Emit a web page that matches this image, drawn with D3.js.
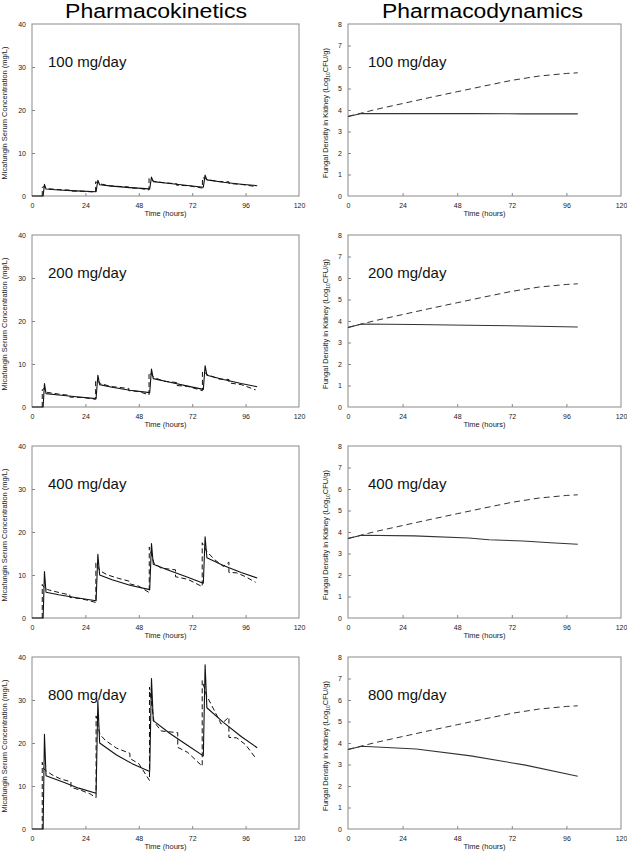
<!DOCTYPE html>
<meta charset="utf-8">
<head>
    <title>Micafungin PK / PD</title>
    <script type="text/javascript" src="https://d3js.org/d3.v7.min.js"></script>
    <style>
        body { margin: 0; background: white; }
        text { font-family: "Liberation Sans", Arial, sans-serif; }
        .tick text { fill: #222; font-size: 7px; }
        .tick line { stroke: #888; }
    </style>
</head>
<body>
<div id="chart"></div>
<script>

    // ---- data ----
    var doseLabels = ["100 mg/day", "200 mg/day", "400 mg/day", "800 mg/day"];
    var timeTicks = [0, 24, 48, 72, 96, 120];
    var pkTicks = [0, 10, 20, 30, 40];
    var pdTicks = [0, 1, 2, 3, 4, 5, 6, 7, 8];

    // serum concentration, model (solid) and second curve (dashed), [hours, mg/L]
    var pk100Solid = [[0,0],[5,0],[5.6,2.7],[6.3,1.62],[12,1.4],[20,1.2],[28.8,1.0],[29.6,3.67],[30.4,2.6],[36,2.3],[44,1.95],[52.9,1.65],[53.7,4.4],[54.5,3.35],[62,2.9],[70,2.45],[77,2.05],[77.8,4.85],[78.6,3.75],[86,3.2],[94,2.75],[101.2,2.4]];
    var pk100Dashed = [[4.6,0],[4.6,2.0],[5.4,2.2],[6.8,1.7],[12,1.5],[17,1.35],[17,1.15],[23,1.1],[28.6,0.9],[28.6,3.3],[30.8,2.8],[35,2.35],[43.5,2.1],[43.5,1.9],[48,1.8],[52.6,1.4],[52.6,4.1],[54.9,3.4],[59,3.1],[65,2.85],[65,2.5],[70,2.4],[76.6,1.85],[76.6,4.3],[79,3.8],[84,3.35],[88.5,3.3],[88.5,2.9],[94,2.7],[100.5,2.2]];

    var pk200Solid = [[0,0],[5,0],[5.6,5.45],[6.3,3.1],[12,2.8],[20,2.4],[28.8,1.95],[29.6,7.4],[30.4,5.2],[36,4.6],[44,3.9],[52.9,3.35],[53.7,8.8],[54.5,6.6],[62,5.75],[70,4.85],[77,4.1],[77.8,9.6],[78.6,7.4],[86,6.4],[94,5.45],[101.2,4.7]];
    var pk200Dashed = [[4.6,0],[4.6,4.0],[5.4,4.3],[6.8,3.4],[12,3.0],[17,2.7],[17,2.3],[23,2.2],[28.6,1.8],[28.6,6.3],[30.8,5.5],[35,4.8],[43.5,4.3],[43.5,3.8],[48,3.6],[52.6,2.8],[52.6,8.0],[54.9,6.9],[59,6.0],[65,5.7],[65,5.0],[70,4.8],[76.6,3.8],[76.6,8.4],[79,7.5],[84,6.5],[88.5,6.4],[88.5,5.6],[94,5.2],[100.5,4.0]];

    var pk400Solid = [[0,0],[5,0],[5.6,10.8],[6.3,6.0],[12,5.4],[20,4.7],[28.8,4.0],[29.6,14.8],[30.4,10.0],[36,8.9],[44,7.6],[52.9,6.6],[53.7,17.3],[54.5,12.5],[62,11.0],[70,9.5],[77,8.1],[77.8,18.9],[78.6,14.0],[86,12.2],[94,10.6],[101.2,9.3]];
    var pk400Dashed = [[4.6,0],[4.6,7.8],[5.5,7.0],[7,6.6],[10,6.2],[14,5.7],[17,5.4],[17,4.8],[22,4.5],[26,4.0],[28.7,3.6],[28.7,12.8],[30.5,11.0],[34,10.0],[39,9.2],[43.5,8.6],[43.5,8.0],[48,7.4],[52.7,5.9],[52.7,16.5],[54.8,12.8],[58,11.6],[64.5,11.2],[64.5,9.6],[70,9.0],[76.5,7.3],[76.5,17.5],[78.5,15.5],[82,13.6],[86,12.0],[88.5,13.0],[88.5,10.6],[92,10.5],[96,9.6],[100.5,8.3]];

    var pk800Solid = [[0,0],[5,0],[5.6,22],[6.3,12.4],[14.5,10.8],[21,9.5],[28.8,8.3],[29.6,29.9],[30.4,20.0],[38,17.2],[45,15.2],[52.9,13.4],[53.7,35],[54.5,25.2],[62,22.2],[70,19.4],[77,17.0],[77.8,38.2],[78.6,28.2],[86,24.8],[94,21.5],[101.2,18.9]];
    var pk800Dashed = [[4.6,0],[4.6,15.5],[5.3,14],[6.5,13.5],[9,12.6],[13,11.6],[17.5,11.0],[17.5,9.7],[22,9.0],[26,8.2],[28.8,7.3],[28.8,26.3],[30.5,22],[33,20.6],[38,18.8],[44,17.6],[44,16.4],[48,15.2],[52.8,11.3],[52.8,33],[54.8,25],[58,22.8],[65.5,22.4],[65.5,19],[70,17.8],[76.5,14.6],[76.5,34.5],[78.5,31],[82,27.5],[85,24.4],[88.5,26],[88.5,21.3],[92,21.2],[96,19.6],[100.5,16.5]];

    // fungal density in kidney, [hours, log10 CFU/g]
    var pdControl = [[0,3.7],[6,3.86],[12,4.02],[24,4.3],[36,4.58],[48,4.85],[60,5.12],[72,5.38],[84,5.58],[96,5.7],[101,5.73]];
    var pd100 = [[0,3.7],[6,3.84],[29,3.83],[53,3.83],[77,3.82],[101,3.82]];
    var pd200 = [[0,3.7],[6,3.86],[29,3.84],[53,3.8],[77,3.77],[101,3.72]];
    var pd400 = [[0,3.7],[6,3.85],[29,3.82],[53,3.72],[62,3.64],[77,3.58],[89,3.5],[101,3.43]];
    var pd800 = [[0,3.7],[6,3.85],[30,3.72],[54,3.4],[78,2.97],[101,2.45]];

    var pkSolid = [pk100Solid, pk200Solid, pk400Solid, pk800Solid];
    var pkDashed = [pk100Dashed, pk200Dashed, pk400Dashed, pk800Dashed];
    var pdSolid = [pd100, pd200, pd400, pd800];

    // ---- layout ----
    var width = 627, height = 852;
    var plotH = 172, rowStep = 211, firstTop = 24;
    var leftCol = { x0: 32, x1: 299 };
    var rightCol = { x0: 348, x1: 621 };

    var svg = d3.select("#chart")
        .append("svg")
        .attr("width", width)
        .attr("height", height);

    // column headings
    svg.append("text")
        .attr("x", 65).attr("y", 18)
        .attr("textLength", 182).attr("lengthAdjust", "spacingAndGlyphs")
        .style("font-size", "20px")
        .text("Pharmacokinetics");

    svg.append("text")
        .attr("x", 382).attr("y", 18)
        .attr("textLength", 201).attr("lengthAdjust", "spacingAndGlyphs")
        .style("font-size", "20px")
        .text("Pharmacodynamics");

    function drawPanel(col, panelTop, yMax, yTicks, lines, label, isPD) {
        var x = d3.scaleLinear().domain([0, 120]).range([col.x0, col.x1]);
        var y = d3.scaleLinear().domain([0, yMax]).range([panelTop + plotH, panelTop]);

        var g = svg.append("g");

        // frame
        g.append("rect")
            .attr("x", col.x0).attr("y", panelTop)
            .attr("width", col.x1 - col.x0).attr("height", plotH)
            .attr("fill", "none")
            .attr("stroke", "#8a8a8a")
            .attr("stroke-width", 1);

        // axes with inward ticks
        var xAxis = g.append("g")
            .attr("transform", "translate(0," + (panelTop + plotH) + ")")
            .call(d3.axisBottom(x).tickValues(timeTicks).tickSize(-3).tickPadding(7));
        xAxis.select(".domain").remove();
        xAxis.selectAll(".tick").filter(function (d) { return d == 0 || d == 120; }).select("line").remove();

        var yAxis = g.append("g")
            .attr("transform", "translate(" + col.x0 + ",0)")
            .call(d3.axisLeft(y).tickValues(yTicks).tickSize(-3).tickPadding(6));
        yAxis.select(".domain").remove();
        yAxis.selectAll(".tick").filter(function (d) { return d == 0 || d == yMax; }).select("line").remove();

        // x axis title
        g.append("text")
            .attr("x", (col.x0 + col.x1) / 2)
            .attr("y", panelTop + plotH + 20)
            .attr("text-anchor", "middle")
            .style("font-size", "7.5px")
            .style("fill", "#222")
            .text("Time (hours)");

        // y axis title
        var yt = g.append("text")
            .attr("transform", "translate(" + (col.x0 - (isPD ? 20 : 25)) + "," + (panelTop + plotH / 2 + 3) + ") rotate(-90)")
            .attr("text-anchor", "middle")
            .style("font-size", "7.5px")
            .style("fill", "#222");
        if (isPD) {
            yt.append("tspan").text("Fungal Density in Kidney (Log");
            yt.append("tspan").attr("dy", 2).style("font-size", "5px").text("10");
            yt.append("tspan").attr("dy", -2).text("CFU/g)");
        } else {
            yt.text("Micafungin Serum Concentration (mg/L)");
        }

        // dose label
        g.append("text")
            .attr("x", col.x0 + (isPD ? 20 : 16))
            .attr("y", panelTop + 43)
            .style("font-size", "15px")
            .style("fill", "#111")
            .text(label);

        var line = d3.line()
            .x(function (d) { return x(d[0]); })
            .y(function (d) { return y(d[1]); });

        lines.forEach(function (l) {
            g.append("path")
                .datum(l.data)
                .attr("d", line)
                .attr("fill", "none")
                .attr("stroke", l.color)
                .attr("stroke-width", l.w)
                .attr("stroke-dasharray", l.dash)
                .attr("stroke-linejoin", "round");
        });
    }

    for (var i = 0; i < 4; i++) {
        var rowTop = firstTop + i * rowStep;
        drawPanel(leftCol, rowTop, 40, pkTicks, [
            { data: pkDashed[i], color: "#111", w: 1, dash: "5,3" },
            { data: pkSolid[i], color: "#111", w: 1.1, dash: null }
        ], doseLabels[i], false);
        drawPanel(rightCol, rowTop, 8, pdTicks, [
            { data: pdControl, color: "#333", w: 1, dash: "6,4" },
            { data: pdSolid[i], color: "#333", w: 1.1, dash: null }
        ], doseLabels[i], true);
    }

</script>
</body>
